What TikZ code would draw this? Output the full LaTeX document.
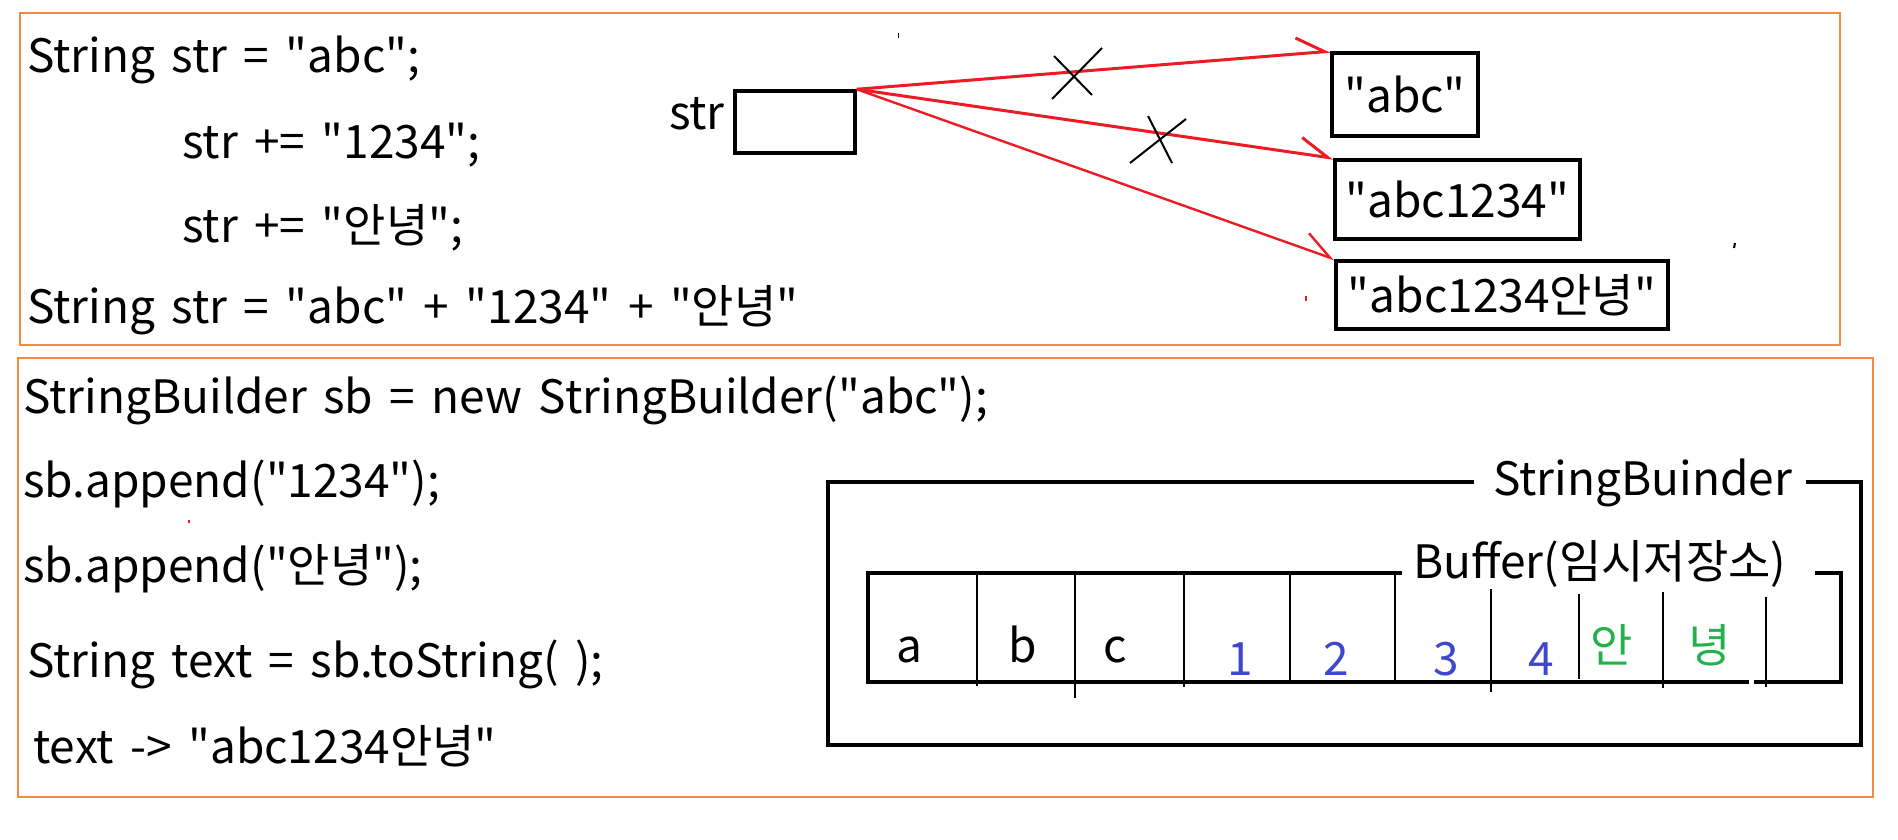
\documentclass[tikz,border=0pt]{standalone}
\usepackage{fontspec}
\setmainfont{Noto Sans CJK KR}[Ligatures=TeXOff,WordSpace=1.6]
\usetikzlibrary{arrows.meta,positioning}
\definecolor{paintred}{RGB}{237,28,36}
\definecolor{paintblue}{RGB}{63,72,204}
\definecolor{paintgreen}{RGB}{34,177,76}
\definecolor{paintorange}{RGB}{247,137,70}
\begin{document}
\begin{tikzpicture}[x=1pt,y=-1pt,
  code/.style={anchor=base west,inner sep=0pt,font=\fontsize{46}{50}\selectfont},
  cell/.style={anchor=base,inner sep=0pt,font=\fontsize{46}{50}\selectfont},
  panel/.style={draw=paintorange,line width=1.5pt},
  membox/.style={draw,line width=3.5pt,inner sep=0pt,font=\fontsize{46}{50}\selectfont},
  ref/.style={paintred,line width=3pt,-{Straight Barb[harpoon,length=28pt,width=32pt]}},
  cross/.style={line width=2pt},
  frame/.style={line width=3.5pt},
  cellline/.style={line width=2.2pt}]
\useasboundingbox (0,0) rectangle (1898,840);
% two panels
\draw[panel] (20,13) rectangle (1840,345);
\draw[panel] (18,358) rectangle (1873,797);
% String code
\node (strdecl) [code] at (27,73) {String str = "abc";};
\node (strnum) [code] at (182,158) {str += "1234";};
\node (strkor) [code] at (182,242) {str += "안녕";};
\node (strsum) [code] at (27,323) {String str = "abc" + "1234" + "안녕"};
% reference and the three objects
\node (strbox) [membox,minimum width=120,minimum height=62] at (795,122) {};
\node (strname) [code,anchor=base east] at (725,130) {str};
\node (strabc) [membox,minimum width=146,minimum height=83] at (1405,94.5) {"abc"};
\node (strabcnum) [membox,minimum width=245,minimum height=79] at (1457.5,199.5) {"abc1234"};
\node (strabcall) [membox,minimum width=332,minimum height=68] at (1502,295) {"abc1234안녕"};
\draw[ref] (strbox.north east) -- (strabc.north west);
\draw[ref] (strbox.north east) -- (strabcnum.north west);
\draw[ref,line width=2.4pt] (strbox.north east) -- (strabcall.north west);
\draw[cross] (1102,48) -- (1052,99) (1054,56) -- (1092,95);
\draw[cross] (1186,119) -- (1130,163) (1148,116) -- (1172,163);
% stray marks
\draw[line width=1pt] (898,33) -- (898,38);
\draw[line width=2pt] (1735,243) -- (1734,248);
\draw[paintred,line width=2pt] (1306,296) -- (1306,301);
\draw[paintred,line width=2pt] (189,520) -- (189,523);
% StringBuilder code
\node (sbnew) [code] at (23,413) {StringBuilder sb = new StringBuilder("abc");};
\node (sbnum) [code] at (23,497) {sb.append("1234");};
\node (sbkor) [code] at (23,582) {sb.append("안녕");};
\node (sbstr) [code] at (27,677) {String text = sb.toString( );};
\node (sbtext) [code] at (33,763) {text -> "abc1234안녕"};
% StringBuinder frame
\node (sblabel) [code] at (1493,495) {StringBuinder};
\draw[frame] (1474,482) -- (828,482) -- (828,745) -- (1861,745) -- (1861,482) -- (1806,482);
% buffer
\node (buflabel) [code] at (1413,578) {Buffer(임시저장소)};
\draw[frame] (1402,573) -- (868,573) -- (868,682) -- (1749,682);
\draw[frame] (1754,682) -- (1841,682) -- (1841,573) -- (1815,573);
\foreach \x/\ya/\yb in {977/573/686,1075/573/698,1184/573/687,1290/573/682,1395/573/682,
  1491/589/692,1579/594/679,1663/592/688,1766/597/687}
  \draw[cellline] (\x,\ya) -- (\x,\yb);
\foreach \x/\c [count=\i] in {909/a,1023/b,1115/c}
  \node (cell\i) [cell] at (\x,662) {\c};
\foreach \x/\c [count=\i from 4] in {1240/1,1336/2,1446/3,1541/4}
  \node (cell\i) [cell,text=paintblue] at (\x,675) {\c};
\foreach \x/\c [count=\i from 8] in {1612/안,1710/녕}
  \node (cell\i) [cell,text=paintgreen] at (\x,662) {\c};
\end{tikzpicture}
\end{document}
